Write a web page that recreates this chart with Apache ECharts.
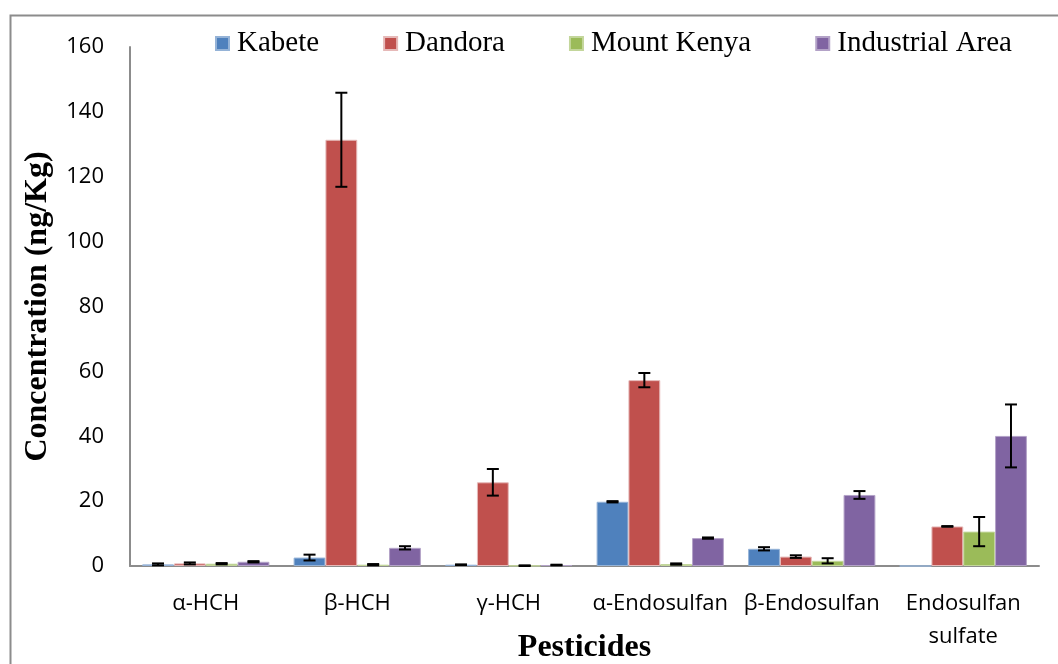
<!DOCTYPE html>
<html>
<head>
<meta charset="utf-8">
<script src="https://cdn.jsdelivr.net/npm/echarts@6/dist/echarts.min.js"></script>
<style>
  html, body { margin: 0; padding: 0; background: #ffffff; }
  #chart { width: 1058px; height: 664px; }
</style>
</head>
<body>
<div id="chart"></div>
<script>
// Pesticide residue concentrations (ng/Kg) by sampling site, with error bars
const categories = ['α-HCH', 'β-HCH', 'γ-HCH', 'α-Endosulfan', 'β-Endosulfan', 'Endosulfan\nsulfate'];
const siteNames = ['Kabete', 'Dandora', 'Mount Kenya', 'Industrial Area'];

const kabete = [0.5, 2.6, 0.4, 19.8, 5.3, 0];
const kabeteErr = [0.3, 0.9, 0.1, 0.2, 0.5, 0];
const dandora = [0.8, 131.4, 25.8, 57.3, 2.9, 12.2];
const dandoraErr = [0.3, 14.5, 4.1, 2.2, 0.4, 0.1];
const mountKenya = [0.7, 0.4, 0.1, 0.6, 1.6, 10.6];
const mountKenyaErr = [0.2, 0.2, 0.1, 0.2, 0.8, 4.5];
const industrialArea = [1.3, 5.6, 0.3, 8.6, 21.9, 40.1];
const industrialAreaErr = [0.2, 0.5, 0.1, 0.2, 1.2, 9.7];

const yTicks = { min: 0, max: 160, interval: 20 };

const values = [kabete, dandora, mountKenya, industrialArea];
const errors = [kabeteErr, dandoraErr, mountKenyaErr, industrialAreaErr];
const colors = ['#4F81BD', '#C0504D', '#9BBB59', '#8064A2'];
const edgeColors = ['#95B3D7', '#E6B9B8', '#C3D69B', '#B3A2C7'];

const categoryGap = 0.16;
const axisGray = '#8C8C8C';
const tickFont = '"Open Sans", "DejaVu Sans", sans-serif';
const serifFont = '"Liberation Serif", "DejaVu Serif", serif';

const chart = echarts.init(document.getElementById('chart'), null, { renderer: 'canvas' });

const barSeries = siteNames.map((name, i) => ({
  name: name,
  type: 'bar',
  data: values[i],
  barGap: '0%',
  barCategoryGap: (categoryGap * 100) + '%',
  itemStyle: { color: colors[i], borderColor: edgeColors[i], borderWidth: 1 },
  emphasis: { disabled: true },
  z: 2
}));

// Error bars: one custom series per site, offset to sit over its bar
const errorSeries = siteNames.map((name, i) => ({
  type: 'custom',
  name: name + ' error',
  data: values[i].map((v, k) => [k, v, errors[i][k]]),
  z: 5,
  silent: true,
  renderItem: function (params, api) {
    const k = api.value(0);
    const v = api.value(1);
    const e = api.value(2);
    if (!e) return null;
    const catWidth = api.size([1, 0])[0];
    const barW = catWidth * (1 - categoryGap) / siteNames.length;
    const offset = (i - (siteNames.length - 1) / 2) * barW;
    const hi = api.coord([k, v + e]);
    const lo = api.coord([k, Math.max(v - e, 0)]);
    const x = hi[0] + offset;
    const cap = 6;
    const style = { stroke: '#000000', lineWidth: 2 };
    return {
      type: 'group',
      children: [
        { type: 'line', shape: { x1: x, y1: hi[1], x2: x, y2: lo[1] }, style: style },
        { type: 'line', shape: { x1: x - cap, y1: hi[1], x2: x + cap, y2: hi[1] }, style: style },
        { type: 'line', shape: { x1: x - cap, y1: lo[1], x2: x + cap, y2: lo[1] }, style: style }
      ]
    };
  }
}));

const option = {
  animation: false,
  backgroundColor: '#ffffff',
  graphic: [{
    type: 'rect',
    left: 8, top: 13,
    shape: { x: 0, y: 0, width: 1200, height: 800 },
    style: { fill: 'none', stroke: axisGray, lineWidth: 2 },
    z: 0
  }],
  legend: {
    data: siteNames,
    top: 24,
    left: 210,
    itemWidth: 13,
    itemHeight: 13,
    itemGap: 64,
    icon: 'rect',
    textStyle: { fontFamily: serifFont, fontSize: 29, color: '#000000', padding: [0, 0, 0, 3] }
  },
  grid: { left: 130, right: 19, top: 47, bottom: 98, outerBoundsMode: 'none', containLabel: false },
  xAxis: {
    type: 'category',
    data: categories,
    axisLine: { lineStyle: { color: axisGray, width: 2 } },
    axisTick: { show: false },
    axisLabel: {
      interval: 0,
      color: '#000000',
      fontFamily: tickFont,
      fontSize: 22,
      margin: 21,
      lineHeight: 33
    },
    name: 'Pesticides',
    nameLocation: 'middle',
    nameGap: 66,
    nameMoveOverlap: false,
    nameTextStyle: { fontFamily: serifFont, fontSize: 32, fontWeight: 'bold', color: '#000000' }
  },
  yAxis: {
    type: 'value',
    min: yTicks.min,
    max: yTicks.max,
    interval: yTicks.interval,
    splitLine: { show: false },
    axisLine: { show: true, lineStyle: { color: axisGray, width: 2 } },
    axisTick: { show: false },
    axisLabel: { color: '#000000', fontFamily: tickFont, fontSize: 22, margin: 26 },
    name: 'Concentration (ng/Kg)',
    nameLocation: 'middle',
    nameRotate: 90,
    nameGap: 76,
    nameMoveOverlap: false,
    nameTextStyle: { fontFamily: serifFont, fontSize: 32, fontWeight: 'bold', color: '#000000' }
  },
  series: barSeries.concat(errorSeries)
};

chart.setOption(option);
</script>
</body>
</html>
